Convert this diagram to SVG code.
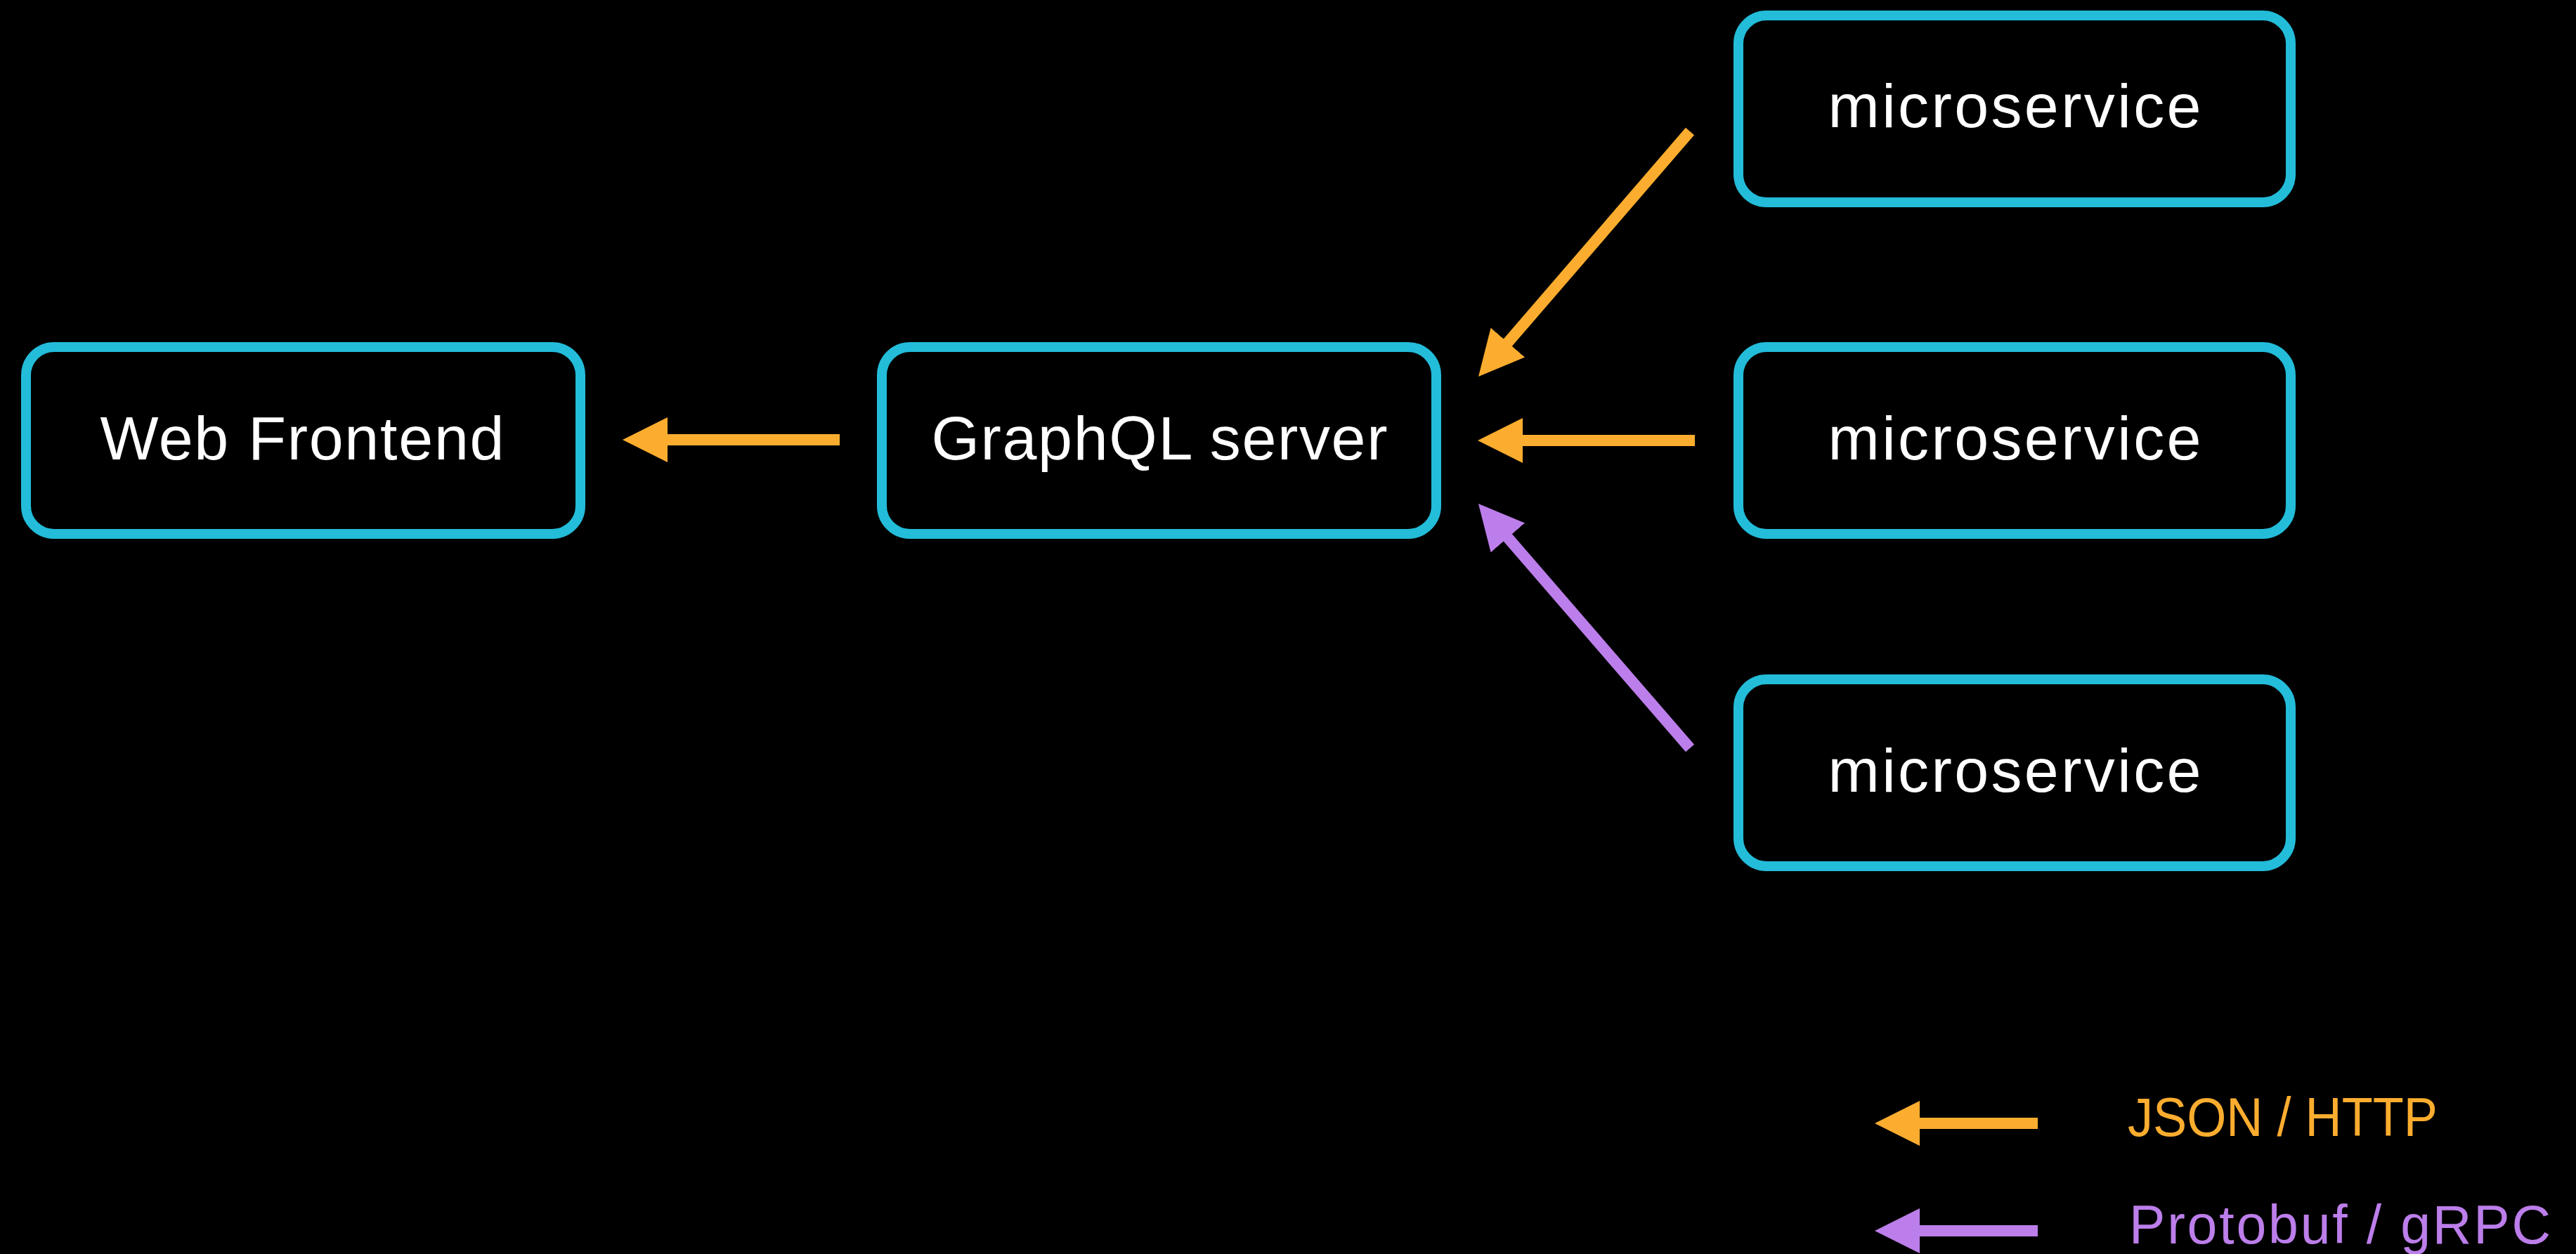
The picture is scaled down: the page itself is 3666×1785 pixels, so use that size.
<svg xmlns="http://www.w3.org/2000/svg" width="3666" height="1785" viewBox="0 0 3666 1785">
<style>
.box{fill:#000;stroke:#23BCD9;stroke-width:14}
.lbl{font-family:"Liberation Sans",Arial,sans-serif;font-size:88px;fill:#fff;text-anchor:middle}
.leg{font-family:"Liberation Sans",Arial,sans-serif;font-size:77px}
.o{stroke:#FCAD2F;stroke-width:16;fill:none}
.p{stroke:#BC7EEA;stroke-width:16;fill:none}
</style>
<defs>
<marker id="ho" markerUnits="userSpaceOnUse" markerWidth="64" markerHeight="64" viewBox="0 0 64 64" refX="8" refY="32" orient="auto"><path d="M0,0 L64,32 L0,64 z" fill="#FCAD2F"/></marker>
<marker id="hp" markerUnits="userSpaceOnUse" markerWidth="64" markerHeight="64" viewBox="0 0 64 64" refX="8" refY="32" orient="auto"><path d="M0,0 L64,32 L0,64 z" fill="#BC7EEA"/></marker>
</defs>
<rect width="3666" height="1785" fill="#000"/>
<g id="web-frontend"><rect class="box" x="37" y="494" width="789" height="266" rx="40"/><text class="lbl" x="430" y="654" textLength="575" lengthAdjust="spacing">Web Frontend</text></g>
<g id="graphql-server"><rect class="box" x="1255" y="494" width="789" height="266" rx="40"/><text class="lbl" x="1650" y="654" textLength="649" lengthAdjust="spacing">GraphQL server</text></g>
<g id="microservice-1"><rect class="box" x="2474" y="22" width="786" height="266" rx="40"/><text class="lbl" x="2867" y="181" textLength="531" lengthAdjust="spacing">microservice</text></g>
<g id="microservice-2"><rect class="box" x="2474" y="494" width="786" height="266" rx="40"/><text class="lbl" x="2867" y="654" textLength="531" lengthAdjust="spacing">microservice</text></g>
<g id="microservice-3"><rect class="box" x="2474" y="967" width="786" height="266" rx="40"/><text class="lbl" x="2867" y="1127" textLength="531" lengthAdjust="spacing">microservice</text></g>
<g id="connectors">
<line class="o" x1="1195" y1="626" x2="942" y2="626" marker-end="url(#ho)"/>
<line class="o" x1="2412" y1="627" x2="2159" y2="627" marker-end="url(#ho)"/>
<line class="o" x1="2405" y1="187" x2="2140.6" y2="493.6" marker-end="url(#ho)"/>
<line class="p" x1="2405" y1="1065" x2="2140.6" y2="759.3" marker-end="url(#hp)"/>
</g>
<g id="legend">
<line class="o" x1="2900" y1="1599" x2="2724" y2="1599" marker-end="url(#ho)"/>
<text class="leg" x="3028" y="1617" fill="#FCAD2F" textLength="441" lengthAdjust="spacingAndGlyphs">JSON / HTTP</text>
<line class="p" x1="2900" y1="1752" x2="2724" y2="1752" marker-end="url(#hp)"/>
<text class="leg" x="3030" y="1770" fill="#BC7EEA" textLength="600" lengthAdjust="spacing">Protobuf / gRPC</text>
</g>
</svg>
